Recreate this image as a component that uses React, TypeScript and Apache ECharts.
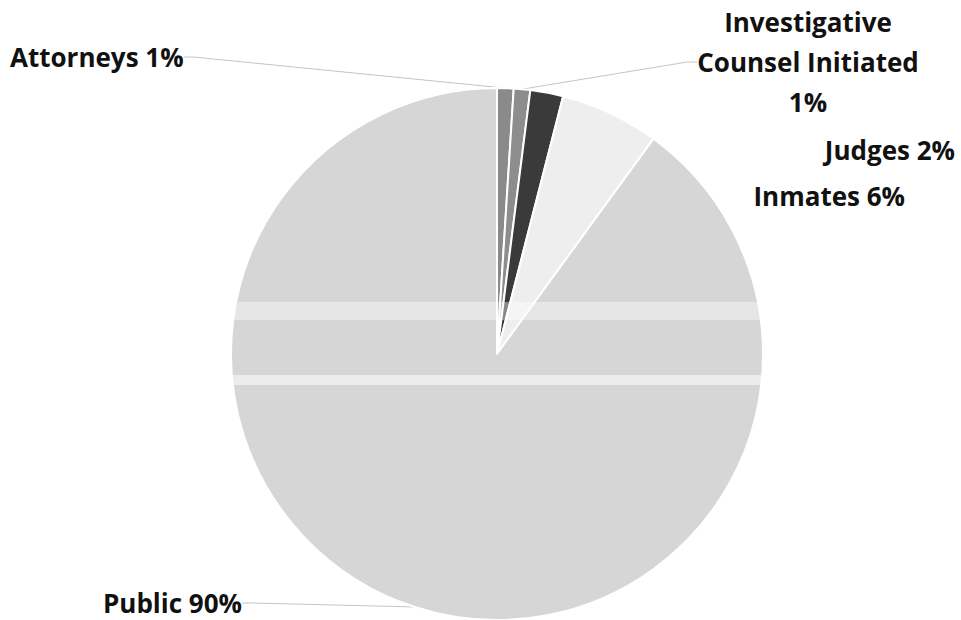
import React, { useEffect, useRef } from "react";
import * as echarts from "echarts";

const categories = ["Attorneys", "Investigative Counsel Initiated", "Judges", "Inmates", "Public"];
const values = [1, 1, 2, 6, 90];
const labelTexts = ["Attorneys 1%", "Investigative\nCounsel Initiated\n1%", "Judges 2%", "Inmates 6%", "Public 90%"];
const colors = ["#8a8a8a", "#8d8d8d", "#3a3a3a", "#eeeeee", "#d6d6d6"];

const labelPos = [
  { x: 10, y: 57, align: "left" },
  { x: 808, y: 62, align: "center" },
  { x: 955, y: 150, align: "right" },
  { x: 905, y: 196, align: "right" },
  { x: 103, y: 603, align: "left" },
];

export default function App() {
  const ref = useRef<HTMLDivElement>(null);
  useEffect(() => {
    const chart = echarts.init(ref.current!, undefined, { renderer: "svg" });
    chart.setOption({
      animation: false,
      backgroundColor: "#ffffff",
      graphic: [
        { type: "rect", shape: { x: 230, y: 302, width: 540, height: 18 }, style: { fill: "rgba(255,255,255,0.4)" }, z: 100 },
        { type: "rect", shape: { x: 230, y: 375, width: 540, height: 10 }, style: { fill: "rgba(255,255,255,0.55)" }, z: 100 },
      ],
      series: [
        {
          type: "pie",
          center: [497, 354],
          radius: [0, 266],
          startAngle: 90,
          clockwise: true,
          avoidLabelOverlap: false,
          itemStyle: { borderColor: "#ffffff", borderWidth: 2 },
          data: categories.map((c, i) => ({
            name: c,
            value: values[i],
            itemStyle: { color: colors[i] },
            labelLine: { show: i === 0 || i === 1 || i === 4 },
          })),
          label: {
            show: true,
            formatter: (p: any) => labelTexts[p.dataIndex],
            fontFamily: "Open Sans",
            fontWeight: "bold",
            fontSize: 26,
            lineHeight: 40,
            color: "#111111",
          },
          labelLine: {
            show: true,
            length: 10,
            length2: 10,
            lineStyle: { color: "#c4c4c4", width: 1 },
          },
          labelLayout: (params: any) => {
            const p = labelPos[params.dataIndex];
            return { x: p.x, y: p.y, align: p.align, verticalAlign: "middle" };
          },
        },
      ],
    });
    return () => chart.dispose();
  }, []);
  return <div ref={ref} style={{ position: "fixed", left: 0, top: 0, width: 961, height: 620 }} />;
}
